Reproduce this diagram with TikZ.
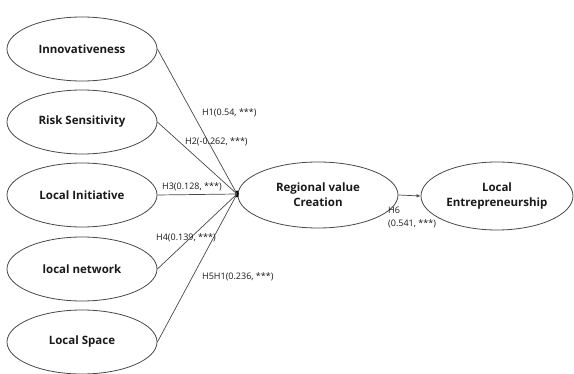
\documentclass[tikz,border=0pt]{standalone}
\usepackage{fontspec}
\setmainfont{Open Sans}
\usetikzlibrary{shapes.geometric,arrows.meta}
\definecolor{linegray}{HTML}{484848}
\definecolor{textgray}{HTML}{1A1A1A}
\tikzset{
  latent/.style={draw=linegray, line width=0.8pt, ellipse, inner sep=0pt,
    minimum width=150pt, minimum height=64pt, font=\bfseries\fontsize{11.5}{15}\selectfont,
    text=textgray, align=center},
  path/.style={draw=linegray, line width=0.7pt},
  lbl/.style={font=\fontsize{9}{13}\selectfont, text=textgray, inner sep=0pt, anchor=west, align=left}
}
\begin{document}
\begin{tikzpicture}[x=1pt,y=-1pt]
\useasboundingbox (0,0) rectangle (574,374);
\node[latent] (inn) at (82,49) {Innovativeness};
\node[latent] (risk) at (82,122) {Risk Sensitivity};
\node[latent] (init) at (82,195) {Local Initiative};
\node[latent] (net) at (82,269) {local network};
\node[latent] (space) at (82,342) {Local Space};
\node[latent, minimum width=160pt, minimum height=66pt] (rvc) at (318,195) {Regional value\\Creation};
\node[latent, minimum width=152pt, minimum height=68pt] (le) at (497,196) {Local\\Entrepreneurship};
\node[ellipse, fill=black, inner sep=0pt, minimum width=3.5pt, minimum height=7pt] (j) at (237,194) {};
\draw[path] (inn.east) -- (j.center);
\draw[path] (risk.east) -- (j.center);
\draw[path] (init.east) -- (j.center);
\draw[path] (net.east) -- (j.center);
\draw[path] (space.east) -- (j.center);
\draw[path, -{Latex[length=4pt,width=3.5pt]}] (rvc.east) -- (le.west);
\node[lbl] (l1) at (202,113) {H1(0.54, ***)};
\node[lbl] (l2) at (185,142) {H2(-0.262, ***)};
\node[lbl] (l3) at (162,187) {H3(0.128, ***)};
\node[lbl] (l4) at (156,238) {H4(0.139, ***)};
\node[lbl] (l5) at (202,277) {H5H1(0.236, ***)};
\node[lbl] (l6) at (388,217) {H6\\(0.541, ***)};
\end{tikzpicture}
\end{document}
